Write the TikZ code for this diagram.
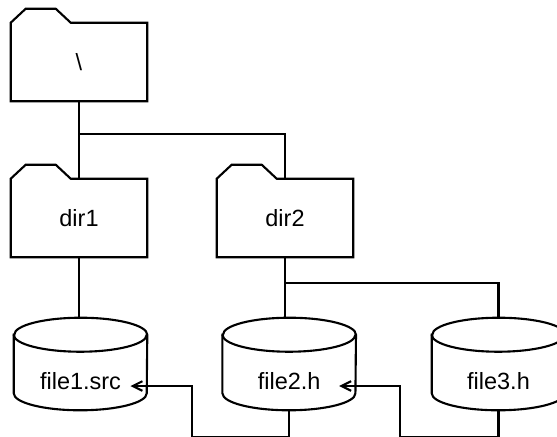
\documentclass[tikz,border=0pt]{standalone}
\usepackage{fontspec}
\setmainfont{Liberation Sans}
\usetikzlibrary{arrows.meta, positioning, calc}

\begin{document}
\begin{tikzpicture}[
    folder/.style={minimum width=3.4cm, minimum height=1.95cm, inner sep=0pt, font=\fontsize{16.7}{20}\selectfont},
    drum/.style={minimum width=3.325cm, minimum height=2.3cm, inner sep=0pt, text height=1.25cm, text depth=0pt, font=\fontsize{16.7}{20}\selectfont},
    outline/.style={line width=1.5pt},
    link/.style={line width=1.5pt},
    arrow/.style={link, -{Straight Barb[length=2.4mm, width=2.4mm]}}
]
    \useasboundingbox (0,0) rectangle (13.925,10.9);

    % Folders
    \node[folder] (root) at (1.975,9.35) {\textbackslash};
    \node[folder] (dir1) at (1.975,5.45) {dir1};
    \node[folder] (dir2) at (7.125,5.45) {dir2};

    \foreach \n in {root,dir1,dir2} {
        \draw[outline] (\n.north west) -- ++(0.375,0.35) -- ++(0.75,0) -- ++(0.375,-0.35)
            -- (\n.north east) -- (\n.south east) -- (\n.south west) -- cycle;
    }

    % Files
    \node[drum] (file1) at (2.0125,1.8) {file1.src};
    \node[drum] (file2) at (7.23,1.8) {file2.h};
    \node[drum] (file3) at (12.4625,1.8) {file3.h};

    \foreach \n in {file1,file2,file3} {
        \draw[outline] ($(\n.north west)+(0,-0.425)$) -- ($(\n.south west)+(0,0.425)$)
            arc[start angle=180, end angle=360, x radius=1.6625, y radius=0.425]
            -- ($(\n.north east)+(0,-0.425)$)
            arc[start angle=0, end angle=180, x radius=1.6625, y radius=0.425] -- cycle;
        \draw[outline] ($(\n.north west)+(0,-0.425)$)
            arc[start angle=180, end angle=360, x radius=1.6625, y radius=0.425];
    }

    % Tree
    \draw[link] (root) -- (dir1);
    \draw[link] (root.south) -- ++(0,-0.825) -| (dir2.north);
    \draw[link] (dir1.south) -- (dir1.south |- file1.north);
    \draw[link] (dir2.south) -- (dir2.south |- file2.north);
    \draw[link] (dir2.south) -- ++(0,-0.65) -| (file3.north);

    % Includes
    \coordinate (in1) at ($(file1.east)+(-0.42,-0.55)$);
    \coordinate (in2) at ($(file2.east)+(-0.42,-0.55)$);
    \draw[arrow] (file2.south) |- (4.8,-0.02) |- (in1);
    \draw[arrow] (file3.south) |- (10,-0.02) |- (in2);

\end{tikzpicture}
\end{document}
